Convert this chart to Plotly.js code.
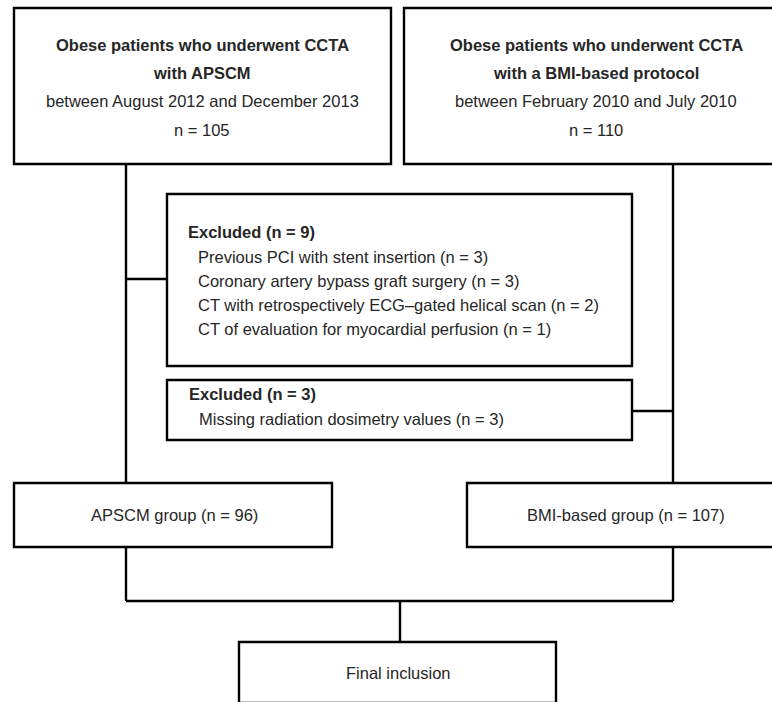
<!DOCTYPE html>
<html>
<head>
<meta charset="utf-8">
<script src="https://cdn.plot.ly/plotly-3.0.1.min.js"></script>
<style>html,body{margin:0;padding:0;background:#fff;}#chart{width:772px;height:702px;}</style>
</head>
<body>
<div id="chart"></div>
<script>
// ---- content (data) ----
const leftSourceLines = ["Obese patients who underwent CCTA", "with APSCM", "between August 2012 and December 2013", "n = 105"];
const rightSourceLines = ["Obese patients who underwent CCTA", "with a BMI-based protocol", "between February 2010 and July 2010", "n = 110"];
const sourceBold = [true, true, false, false];
const exclusion1Header = "Excluded (n = 9)";
const exclusion1Items = ["Previous PCI with stent insertion (n = 3)", "Coronary artery bypass graft surgery (n = 3)", "CT with retrospectively ECG\u2013gated helical scan (n = 2)", "CT of evaluation for myocardial perfusion (n = 1)"];
const exclusion2Header = "Excluded (n = 3)";
const exclusion2Items = ["Missing radiation dosimetry values (n = 3)"];
const groupLabels = ["APSCM group (n = 96)", "BMI-based group (n = 107)"];
const finalLabel = "Final inclusion";

// ---- geometry (layout, pixel space) ----
const G = {
  srcL: {x0: 14, x1: 391, y0: 8, y1: 164, cx: 202, lines: [45, 73, 101, 130]},
  srcR: {x0: 404, x1: 790, y0: 8, y1: 164, cx: 596, lines: [45, 73, 101, 130]},
  ex1: {x0: 167, x1: 632, y0: 194, y1: 366, hx: 186, ix: 196, hy: 232, iy: [257, 281, 305, 329], cy: 279},
  ex2: {x0: 167, x1: 632, y0: 380, y1: 440, hx: 187, ix: 197, hy: 394, iy: [419], cy: 411},
  grpL: {x0: 14, x1: 332, y0: 483, y1: 547, cx: 174, cy: 515},
  grpR: {x0: 467, x1: 790, y0: 483, y1: 547, cx: 626, cy: 515},
  fin: {x0: 239, x1: 556, y0: 642, y1: 703, cx: 398, cy: 673},
  lx: 126, rx: 673, joinY: 601, finX: 400
};

const FONT = "Liberation Sans, Arial, Helvetica, sans-serif";
const TXT = "#262626";
const FS = 16.5;
const LW = 2.4;

const shapes = [];
function rect(b) {
  shapes.push({type: "rect", xref: "x", yref: "y", x0: b.x0, x1: b.x1, y0: b.y0, y1: b.y1,
    line: {color: "#000", width: LW}, fillcolor: "rgba(0,0,0,0)"});
}
function line(x0, y0, x1, y1) {
  shapes.push({type: "line", xref: "x", yref: "y", x0, y0, x1, y1, line: {color: "#000", width: LW}});
}
[G.srcL, G.srcR, G.ex1, G.ex2, G.grpL, G.grpR, G.fin].forEach(rect);
// vertical trunks
line(G.lx, G.srcL.y1, G.lx, G.grpL.y0);
line(G.rx, G.srcR.y1, G.rx, G.grpR.y0);
line(G.lx, G.grpL.y1, G.lx, G.joinY);
line(G.rx, G.grpR.y1, G.rx, G.joinY);
// exclusion connectors
line(G.lx, G.ex1.cy, G.ex1.x0, G.ex1.cy);
line(G.ex2.x1, G.ex2.cy, G.rx, G.ex2.cy);
// join
line(G.lx, G.joinY, G.rx, G.joinY);
line(G.finX, G.joinY, G.finX, G.fin.y0);

const annotations = [];
function txt(s, x, y, anchor, bold) {
  annotations.push({text: bold ? "<b>" + s + "</b>" : s, x, y, xref: "x", yref: "y",
    xanchor: anchor, yanchor: "middle", showarrow: false,
    font: {family: FONT, size: FS, color: TXT}});
}
leftSourceLines.forEach((s, i) => txt(s, G.srcL.cx, G.srcL.lines[i], "center", sourceBold[i]));
rightSourceLines.forEach((s, i) => txt(s, G.srcR.cx, G.srcR.lines[i], "center", sourceBold[i]));
txt(exclusion1Header, G.ex1.hx, G.ex1.hy, "left", true);
exclusion1Items.forEach((s, i) => txt(s, G.ex1.ix, G.ex1.iy[i], "left", false));
txt(exclusion2Header, G.ex2.hx, G.ex2.hy, "left", true);
exclusion2Items.forEach((s, i) => txt(s, G.ex2.ix, G.ex2.iy[i], "left", false));
txt(groupLabels[0], G.grpL.cx, G.grpL.cy, "center", false);
txt(groupLabels[1], G.grpR.cx, G.grpR.cy, "center", false);
txt(finalLabel, G.fin.cx, G.fin.cy, "center", false);

const layout = {
  width: 772, height: 702,
  margin: {l: 0, r: 0, t: 0, b: 0},
  paper_bgcolor: "#fff", plot_bgcolor: "#fff",
  xaxis: {range: [0, 772], visible: false, fixedrange: true},
  yaxis: {range: [702, 0], visible: false, fixedrange: true},
  shapes, annotations, showlegend: false
};
Plotly.newPlot("chart", [], layout, {staticPlot: true, displayModeBar: false});
</script>
</body>
</html>
